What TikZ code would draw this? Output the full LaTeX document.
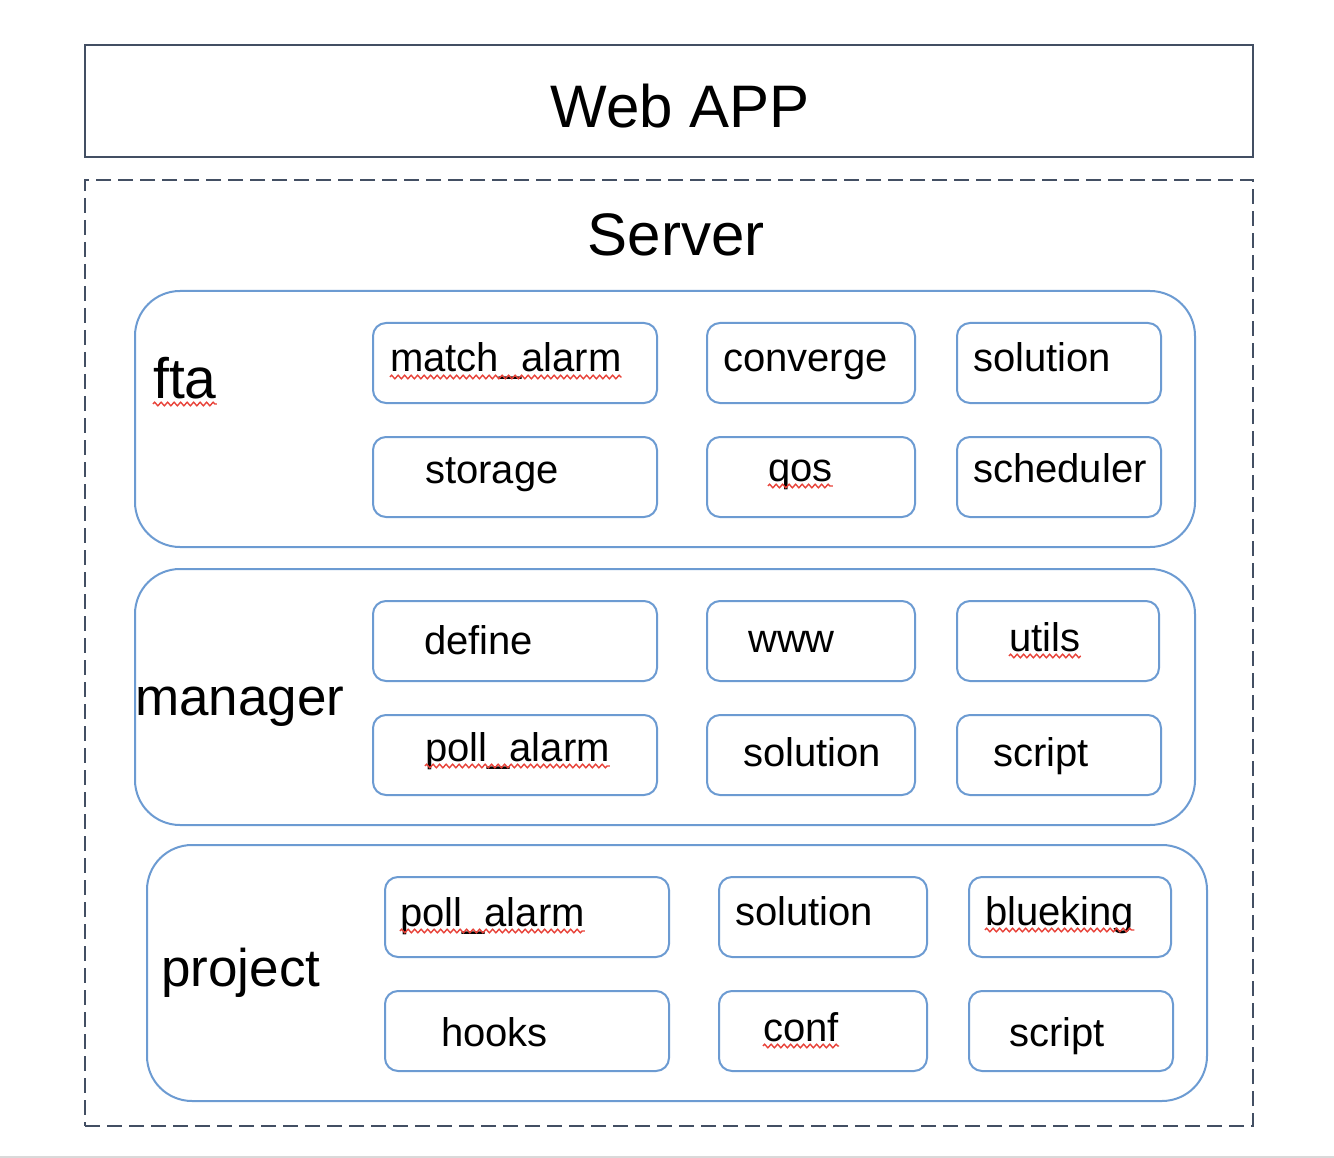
\documentclass[tikz,border=0pt]{standalone}
\usepackage{fontspec}
\setmainfont{Liberation Sans}
\usetikzlibrary{decorations.pathmorphing}
\definecolor{frame}{HTML}{434F63}
\definecolor{grp}{HTML}{6C9BD2}
\definecolor{wave}{HTML}{E8433A}
\begin{document}
\begin{tikzpicture}[x=1pt,y=-1pt,
  outer/.style={draw=frame,line width=2.5pt,inner sep=0pt},
  grpbox/.style={draw=grp,line width=2pt,rounded corners=45pt,inner sep=0pt},
  itembox/.style={draw=grp,line width=2pt,rounded corners=13pt,inner sep=0pt,minimum height=80pt},
  lbl/.style={inner sep=0pt,anchor=base west,font=\fontsize{40}{48}\selectfont},
  glbl/.style={inner sep=0pt,anchor=base west,font=\fontsize{53}{60}\selectfont},
  ttl/.style={inner sep=0pt,anchor=base,font=\fontsize{60}{70}\selectfont},
  spell/.style={draw=wave,line width=1.4pt,decorate,decoration={zigzag,amplitude=1.8pt,segment length=6.5pt}}]
\useasboundingbox (0,0) rectangle (1334,1158);
\fill[white] (0,0) rectangle (1334,1158);
\draw[line width=2pt,draw=black!15] (0,1157) -- (1334,1157);

% outer frames
\node[outer,minimum width=1168pt,minimum height=112pt] (web) at (669,101) {};
\node[outer,dash pattern=on 15pt off 7pt,minimum width=1168pt,minimum height=946pt] (server) at (669,653) {};
\node[ttl] (webt) at (680,128) {Web APP};
\node[ttl] (servert) at (676,256) {Server};

% groups
\node[grpbox,minimum width=1060pt,minimum height=256pt] (fta) at (665,419) {};
\node[grpbox,minimum width=1060pt,minimum height=256pt] (mgr) at (665,697) {};
\node[grpbox,minimum width=1060pt,minimum height=256pt] (prj) at (677,973) {};
\node[glbl,font=\fontsize{57}{64}\selectfont] (ftat) at (153,399) {fta};
\node[glbl] (mgrt) at (135,715) {manager};
\node[glbl] (prjt) at (161,986) {project};

% fta items
\node[itembox,minimum width=284pt] (f1) at (515,363) {};
\node[itembox,minimum width=208pt] (f2) at (811,363) {};
\node[itembox,minimum width=204pt] (f3) at (1059,363) {};
\node[itembox,minimum width=284pt] (f4) at (515,477) {};
\node[itembox,minimum width=208pt] (f5) at (811,477) {};
\node[itembox,minimum width=204pt] (f6) at (1059,477) {};
\node[lbl] (f1t) at (390,372) {match\_alarm};
\node[lbl] (f2t) at (723,372) {converge};
\node[lbl] (f3t) at (973,372) {solution};
\node[lbl] (f4t) at (425,483) {storage};
\node[lbl] (f5t) at (768,481) {qos};
\node[lbl] (f6t) at (973,482) {scheduler};

% manager items
\node[itembox,minimum width=284pt] (m1) at (515,641) {};
\node[itembox,minimum width=208pt] (m2) at (811,641) {};
\node[itembox,minimum width=202pt] (m3) at (1058,641) {};
\node[itembox,minimum width=284pt] (m4) at (515,755) {};
\node[itembox,minimum width=208pt] (m5) at (811,755) {};
\node[itembox,minimum width=204pt] (m6) at (1059,755) {};
\node[lbl] (m1t) at (424,654) {define};
\node[lbl] (m2t) at (748,652) {www};
\node[lbl] (m3t) at (1009,651) {utils};
\node[lbl] (m4t) at (425,761) {poll\_alarm};
\node[lbl] (m5t) at (743,766) {solution};
\node[lbl] (m6t) at (993,766) {script};

% project items
\node[itembox,minimum width=284pt] (p1) at (527,917) {};
\node[itembox,minimum width=208pt] (p2) at (823,917) {};
\node[itembox,minimum width=202pt] (p3) at (1070,917) {};
\node[itembox,minimum width=284pt] (p4) at (527,1031) {};
\node[itembox,minimum width=208pt] (p5) at (823,1031) {};
\node[itembox,minimum width=204pt] (p6) at (1071,1031) {};
\node[lbl] (p1t) at (400,926) {poll\_alarm};
\node[lbl] (p2t) at (735,925) {solution};
\node[lbl] (p3t) at (985,925) {blueking};
\node[lbl] (p4t) at (441,1046) {hooks};
\node[lbl] (p5t) at (763,1041) {conf};
\node[lbl] (p6t) at (1009,1046) {script};

% spell-check underlines
\foreach \n in {ftat,f1t,f5t,m3t,m4t,p1t,p3t,p5t}
  \draw[spell] ([yshift=-5pt]\n.base west) -- ([yshift=-5pt]\n.base east);
\end{tikzpicture}
\end{document}
